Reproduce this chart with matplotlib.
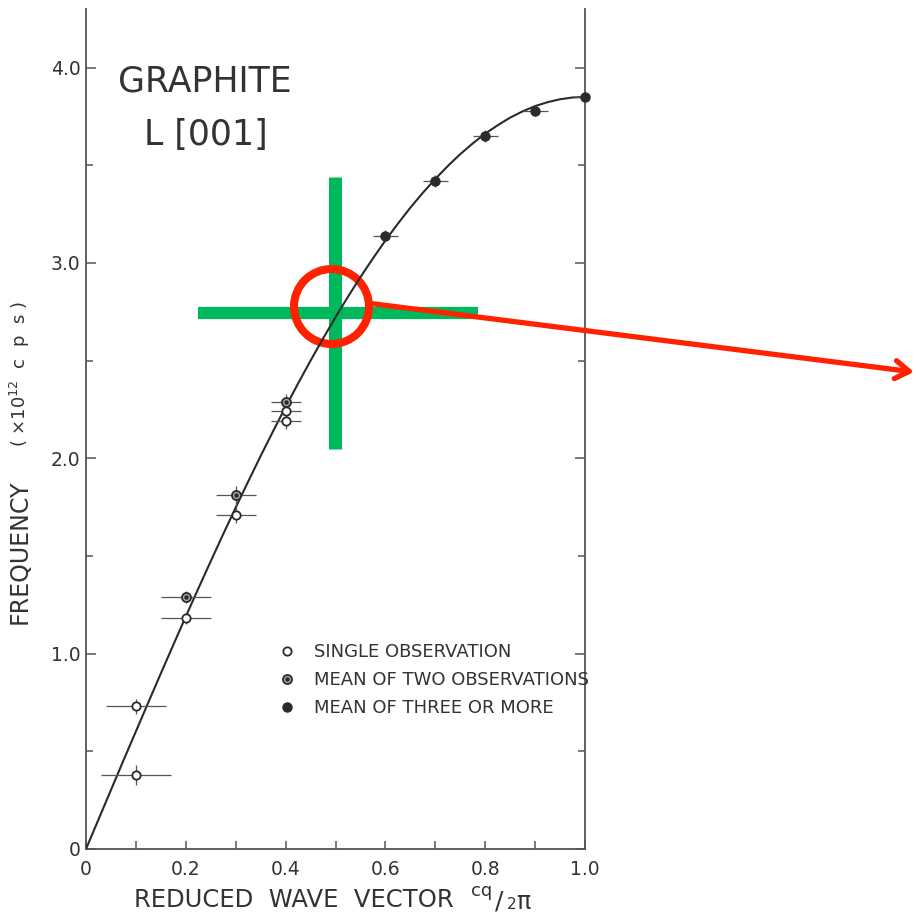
import numpy as np
import matplotlib
matplotlib.use("Agg")
import matplotlib.pyplot as plt
from matplotlib.legend_handler import HandlerTuple

# data
q_single = [0.1, 0.1, 0.2, 0.3, 0.4, 0.4]
f_single = [0.38, 0.73, 1.18, 1.71, 2.24, 2.19]
dq_single = [0.07, 0.06, 0.05, 0.04, 0.03, 0.03]
df_single = [0.05, 0.04, 0.03, 0.04, 0.03, 0.04]

q_two = [0.2, 0.3, 0.4]
f_two = [1.29, 1.81, 2.29]
dq_two = [0.05, 0.04, 0.03]
df_two = [0.03, 0.05, 0.04]

q_three = [0.6, 0.7, 0.8, 0.9, 1.0]
f_three = [3.14, 3.42, 3.65, 3.78, 3.85]
dq_three = [0.025, 0.025, 0.025, 0.025, 0.022]
df_three = [0.03, 0.03, 0.03, 0.03, 0.02]

# the drawn dispersion curve, read every 0.025
q_curve = [0, 0.025, 0.05, 0.075, 0.1, 0.125, 0.15, 0.175, 0.2, 0.225, 0.25,
           0.275, 0.3, 0.325, 0.35, 0.375, 0.4, 0.425, 0.45, 0.475, 0.5,
           0.525, 0.55, 0.575, 0.6, 0.625, 0.65, 0.675, 0.7, 0.725, 0.75,
           0.775, 0.8, 0.825, 0.85, 0.875, 0.9, 0.925, 0.95, 0.975, 1.0]
f_curve = [0, 0.151, 0.302, 0.453, 0.602, 0.751, 0.899, 1.045, 1.190, 1.333, 1.473,
           1.612, 1.748, 1.881, 2.012, 2.139, 2.263, 2.383, 2.500, 2.613, 2.722,
           2.827, 2.928, 3.023, 3.115, 3.201, 3.283, 3.359, 3.430, 3.496, 3.557,
           3.612, 3.662, 3.705, 3.744, 3.776, 3.803, 3.823, 3.838, 3.847, 3.850]

x_ticks = [0, 0.2, 0.4, 0.6, 0.8, 1.0]
x_labels = ["0", "0.2", "0.4", "0.6", "0.8", "1.0"]
y_ticks = [0, 1, 2, 3, 4]
y_labels = ["0", "1.0", "2.0", "3.0", "4.0"]

ink = "#2a2a2a"
txt = "#333333"
green = "#00b85c"
red = "#ff2200"

fig = plt.figure(figsize=(9.16, 9.13), dpi=100)
ax = fig.add_axes([86/916, 1-849/913, (585-86)/916, (849-9)/913])
ax.set_xlim(0, 1.0)
ax.set_ylim(0, 4.3)

# annotation marks (green cross, red circle)
ax.plot([0.498, 0.498], [2.05, 3.44], color=green, lw=9.4, solid_capstyle="butt", zorder=1)
ax.plot([0.224, 0.786], [2.745, 2.745], color=green, lw=8.8, solid_capstyle="butt", zorder=1)
ax.plot([0.491], [2.781], marker="o", ms=54, mfc="none", mec=red, mew=5.8, zorder=2)

ax.plot(q_curve, f_curve, color=ink, lw=1.5, zorder=3)

eb = dict(fmt="none", ecolor="#555555", elinewidth=0.9, capsize=0, zorder=3)
ax.errorbar(q_single, f_single, xerr=dq_single, yerr=df_single, **eb)
ax.errorbar(q_two, f_two, xerr=dq_two, yerr=df_two, **eb)
ax.errorbar(q_three, f_three, xerr=dq_three, yerr=df_three, **eb)

h1, = ax.plot(q_single, f_single, "o", ms=6, mfc="white", mec=ink, mew=1.3, ls="none", zorder=4)
h2a, = ax.plot(q_two, f_two, "o", ms=6.5, mfc="#aaaaaa", mec=ink, mew=1.3, ls="none", zorder=4)
h2b, = ax.plot(q_two, f_two, "o", ms=2.2, mfc=ink, mec=ink, ls="none", zorder=5)
h3, = ax.plot(q_three, f_three, "o", ms=6.5, mfc=ink, mec=ink, ls="none", zorder=4, clip_on=False)

# axes styling
for s in ["left", "bottom", "right"]:
    ax.spines[s].set_color("#555555")
    ax.spines[s].set_linewidth(1.3)
ax.spines["top"].set_visible(False)

ax.set_xticks(x_ticks)
ax.set_xticklabels(x_labels)
ax.set_xticks(np.arange(0.1, 1.0, 0.2), minor=True)
ax.set_yticks(y_ticks)
ax.set_yticklabels(y_labels)
ax.set_yticks([0.5, 1.5, 2.5, 3.5], minor=True)
ax.tick_params(which="both", direction="in", right=True, color="#555555", width=1.1,
               labelsize=13.5, labelcolor=txt)
ax.tick_params(axis="x", which="both", length=6, pad=8)
ax.tick_params(axis="y", which="major", length=7, pad=4)
ax.tick_params(axis="y", which="minor", length=5)

# text
ax.text(0.238, 3.93, "GRAPHITE", fontsize=25, color=txt, ha="center", va="center")
ax.text(0.241, 3.657, "L [001]", fontsize=25, color=txt, ha="center", va="center")

fig.text(294/916, 1-900/913, "REDUCED  WAVE  VECTOR", fontsize=17.5, color=txt,
         ha="center", va="center")
# cq/2pi written in pieces like the hand lettering
fig.text(471/916, 1-896/913, "cq", fontsize=13, color=txt, ha="left", va="baseline")
fig.text(495/916, 1-908/913, "/", fontsize=18, color=txt, ha="left", va="baseline")
fig.text(507/916, 1-909/913, "2", fontsize=11, color=txt, ha="left", va="baseline")
fig.text(516/916, 1-909/913, "π", fontsize=17, color=txt, ha="left", va="baseline")

fig.text(20/916, 1-552/913, "FREQUENCY", fontsize=17, color=txt, rotation=90,
         ha="center", va="center")
fig.text(20/916, 1-374/913, r"( $\times$10$^{12}$  c  p  s )", fontsize=13, color=txt,
         rotation=90, ha="center", va="center")

ax.legend([h1, (h2a, h2b), h3],
          ["SINGLE OBSERVATION", "MEAN OF TWO OBSERVATIONS", "MEAN OF THREE OR MORE"],
          handler_map={tuple: HandlerTuple(ndivide=1, pad=0)},
          loc="upper left", bbox_to_anchor=(280/916, 1-643/913), bbox_transform=fig.transFigure,
          frameon=False, fontsize=13, handlelength=0.8, handletextpad=1.1,
          labelspacing=0.55, borderpad=0, borderaxespad=0, labelcolor=txt)

# red arrow out of the circle
ax.annotate("", xy=(914/916, 1-372/913), xycoords="figure fraction",
            xytext=(0.575, 2.791), textcoords="data", annotation_clip=False,
            arrowprops=dict(arrowstyle="->,head_length=1.0,head_width=0.65", color=red,
                            lw=3.8, shrinkA=0, shrinkB=0, mutation_scale=10,
                            capstyle="round", joinstyle="round"))

fig.savefig("out.png", dpi=100)
